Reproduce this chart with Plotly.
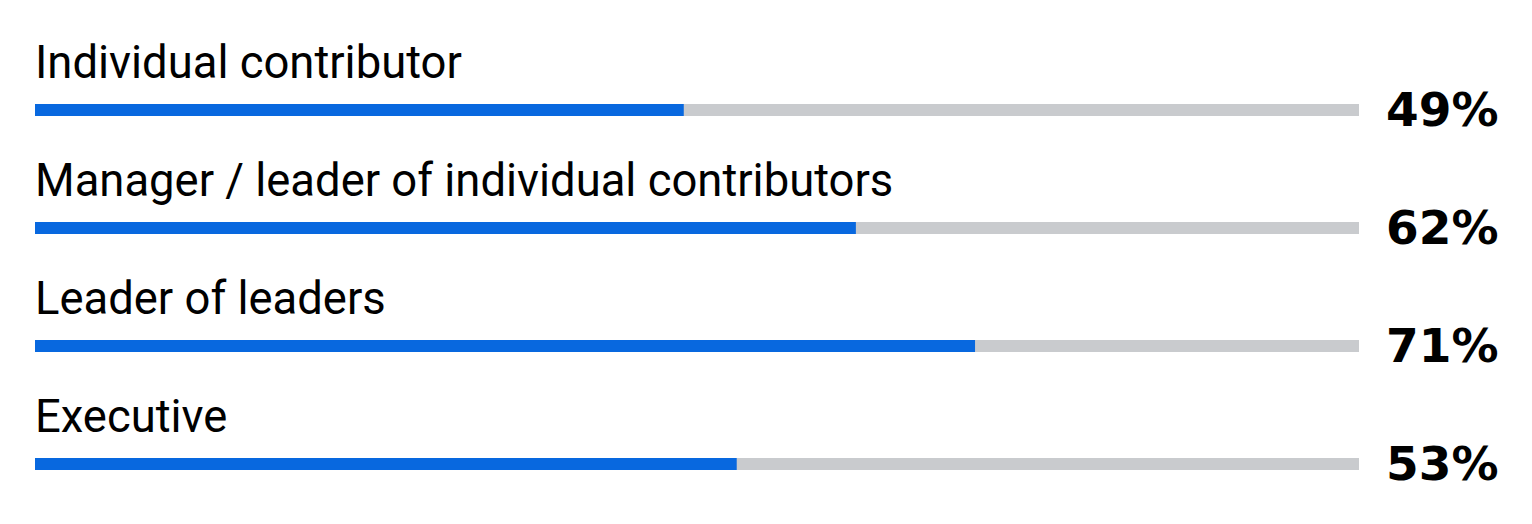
import plotly.graph_objects as go

categories = ["Individual contributor", "Manager / leader of individual contributors",
              "Leader of leaders", "Executive"]
values = [49, 62, 71, 53]
value_labels = ["49%", "62%", "71%", "53%"]
total = [100, 100, 100, 100]

BLUE = "#0868DF"
GRAY = "#C9CBCE"

# page body has an 8px margin; size the figure to fill the rest of the window
OFF = 8
W, H = 1532 - OFF, 524 - OFF
pos = list(range(len(categories)))
unit = 118.0
y0 = 110.0 - OFF
ymin = -y0 / unit
ymax = ymin + H / unit
bw = 12.0 / unit

fig = go.Figure()
fig.add_trace(go.Bar(x=total, y=pos, orientation="h", width=bw, marker=dict(color=GRAY, line=dict(width=0)),
                     hoverinfo="skip", showlegend=False))
fig.add_trace(go.Bar(x=values, y=pos, orientation="h", width=bw, marker=dict(color=BLUE, line=dict(width=0)),
                     showlegend=False))

for p, c, lab in zip(pos, categories, value_labels):
    fig.add_annotation(x=0, y=p, xref="x", yref="y", text=c, showarrow=False,
                       xanchor="left", yanchor="middle", yshift=48, xshift=-2,
                       font=dict(family="Roboto", size=45.4, color="#000000"))
    fig.add_annotation(x=100, y=p, xref="x", yref="y", text=f"<b>{lab}</b>", showarrow=False,
                       xanchor="left", yanchor="middle", xshift=25, yshift=1,
                       font=dict(family="DejaVu Sans", size=47, color="#000000"))

fig.update_layout(
    width=W, height=H, barmode="overlay",
    margin=dict(l=35 - OFF, r=W - (1359 - OFF), t=0, b=0),
    paper_bgcolor="white", plot_bgcolor="white",
    xaxis=dict(range=[0, 100], visible=False, fixedrange=True),
    yaxis=dict(range=[ymax, ymin], visible=False, fixedrange=True),
)
fig.write_html("out.html")
